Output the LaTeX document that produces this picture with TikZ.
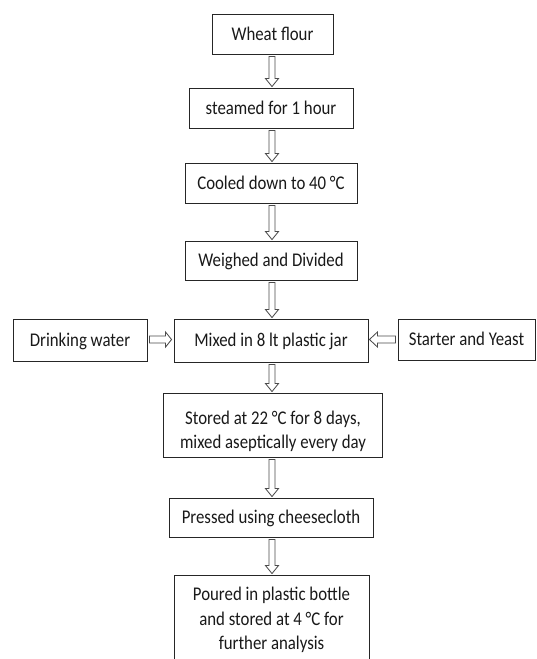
\documentclass[tikz,border=0pt]{standalone}
\usepackage{fontspec}
\setmainfont{Carlito}[FakeStretch=0.866]
\usetikzlibrary{calc}
\newcommand{\varr}[2]{%
  \draw[blockarr] let \p1=(#1.south), \p2=(#2.north), \p3=(vax) in
    (\x3-3pt,\y1-2pt) -- (\x3+3pt,\y1-2pt) -- (\x3+3pt,\y2+9pt) -- (\x3+6.5pt,\y2+9pt)
    -- (\x3,\y2+1pt) -- (\x3-6.5pt,\y2+9pt) -- (\x3-3pt,\y2+9pt) -- cycle;}
\newcommand{\rarr}[2]{%
  \draw[blockarr] let \p1=(#1.east), \p2=(#2.west), \p3=(hax) in
    (\x1+2pt,\y3+3.5pt) -- (\x1+2pt,\y3-3.5pt) -- (\x2-8pt,\y3-3.5pt) -- (\x2-8pt,\y3-7.5pt)
    -- (\x2-2pt,\y3) -- (\x2-8pt,\y3+7.5pt) -- (\x2-8pt,\y3+3.5pt) -- cycle;}
\newcommand{\larr}[2]{%
  \draw[blockarr] let \p1=(#1.west), \p2=(#2.east), \p3=(hax) in
    (\x1-2pt,\y3+3.5pt) -- (\x1-2pt,\y3-3.5pt) -- (\x2+9pt,\y3-3.5pt) -- (\x2+9pt,\y3-7.5pt)
    -- (\x2+1pt,\y3) -- (\x2+9pt,\y3+7.5pt) -- (\x2+9pt,\y3+3.5pt) -- cycle;}
\begin{document}
\begin{tikzpicture}[x=1pt,y=-1pt,
  box/.style={draw=black!85, line width=0.9pt, inner sep=0pt},
  ft/.style={font=\fontsize{19.4}{24.5}\selectfont, text=black!90},
  one/.style={ft, text height=12pt, text depth=0pt},
  multi/.style={ft, inner sep=0pt, align=flush center},
  blockarr/.style={draw=black!70, line width=0.85pt, fill=white, line join=miter}]
\useasboundingbox (0,0) rectangle (537,659);
\clip (0,0) rectangle (537,659);
\fill[white] (0,0) rectangle (537,659);
\coordinate (vax) at (272,0);
\coordinate (hax) at (0,339.5);

\node[box, one, minimum width=121pt, minimum height=40pt] (wheat) at (272.5,34) {Wheat flour};
\node[box, one, minimum width=164pt, minimum height=40pt] (steamed) at (271,108) {steamed for 1 hour};
\node[box, one, minimum width=172pt, minimum height=40pt] (cooled) at (271,183) {Cooled down to 40 °C};
\node[box, one, minimum width=172pt, minimum height=39pt] (weighed) at (271,260.5) {Weighed and Divided};
\node[box, one, minimum width=134pt, minimum height=42pt] (drink) at (80,340) {Drinking water};
\node[box, one, minimum width=194pt, minimum height=43pt] (mixed) at (271,340.5) {Mixed in 8 lt plastic jar};
\node[box, one, minimum width=137pt, minimum height=41pt] (starter) at (466.5,339.5) {Starter and Yeast};
\node[box, minimum width=219pt, minimum height=64pt] (stored) at (272.5,425) {};
\node[multi, text width=219pt, anchor=base] (storedtxt) at (273,424)
  {Stored at 22 °C for 8 days,\\mixed aseptically every day};
\node[box, one, minimum width=204pt, minimum height=39pt] (pressed) at (271,517.5) {Pressed using cheesecloth};
\node[box, minimum width=195pt, minimum height=94pt] (poured) at (271.5,622) {};
\node[multi, text width=195pt, anchor=base] (pouredtxt) at (271.5,600.5)
  {Poured in plastic bottle\\and stored at 4 °C for\\further analysis};

\varr{wheat}{steamed}
\varr{steamed}{cooled}
\varr{cooled}{weighed}
\varr{weighed}{mixed}
\varr{mixed}{stored}
\varr{stored}{pressed}
\varr{pressed}{poured}
\rarr{drink}{mixed}
\larr{starter}{mixed}
\end{tikzpicture}
\end{document}
